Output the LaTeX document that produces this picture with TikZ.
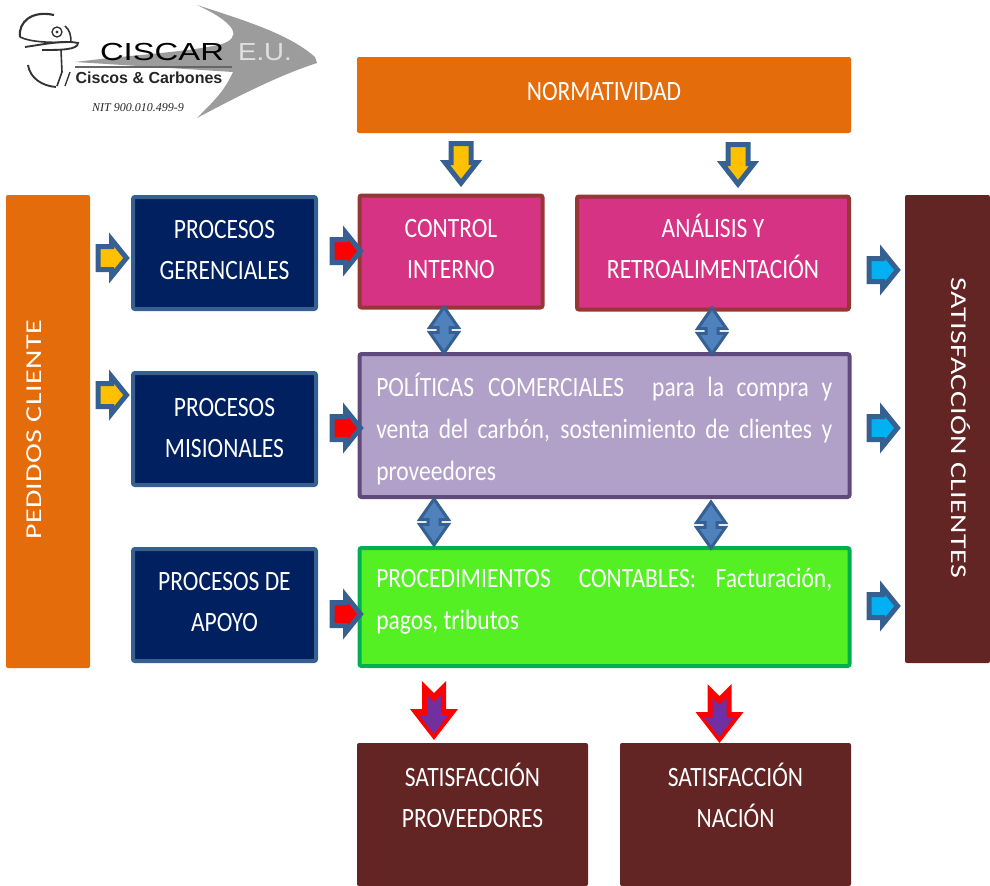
\documentclass[tikz,border=0pt]{standalone}
\usepackage{fontspec}
\setmainfont[FakeStretch=0.84]{Carlito}
\newfontfamily\widefont[FakeStretch=1.32,LetterSpace=2]{Carlito}
\newfontfamily\logofont{Liberation Sans}
\newfontfamily\nitfont{Liberation Serif}
\usepackage{tikz}
\usetikzlibrary{shapes.arrows,positioning}
\def\px{0.75pt}
\definecolor{naranja}{HTML}{E46C0A}
\definecolor{azuloscuro}{HTML}{002060}
\definecolor{azulborde}{HTML}{376092}
\definecolor{azulclaro}{HTML}{4F81BD}
\definecolor{rosa}{HTML}{D63384}
\definecolor{rosaborde}{HTML}{953735}
\definecolor{lila}{HTML}{B1A0C7}
\definecolor{lilaborde}{HTML}{604A7B}
\definecolor{verde}{HTML}{55F024}
\definecolor{verdeborde}{HTML}{00B050}
\definecolor{cafe}{HTML}{632523}
\definecolor{oro}{HTML}{FFC000}
\definecolor{cielo}{HTML}{00B0F0}
\definecolor{morado}{HTML}{7030A0}
\definecolor{gris}{HTML}{9C9C9C}
\tikzset{%
	caja/.style     = {rectangle, rounded corners=2*\px, inner sep=0pt, text=white, align=center, text depth=6*\px, font=\fontsize{21}{30.75}\selectfont},
	plana/.style    = {caja, fill=#1},
	proceso/.style  = {caja, fill=azuloscuro, draw=azulborde, line width=4*\px, minimum width=183*\px, minimum height=112*\px},
	area/.style 2 args = {caja, fill=#1, draw=#2, line width=4*\px},
	vertical/.style = {text=white, font=\widefont\fontsize{17}{24}\selectfont},
	parrafo/.style  = {anchor=north west, inner sep=0pt, text=white, text width=456*\px, align=justify, font=\fontsize{21}{31.5}\selectfont},
	flecha/.style   = {single arrow, anchor=tail, inner sep=0pt, inner ysep=9*\px, single arrow head extend=7*\px, single arrow tip angle=102, minimum height=28.5*\px, draw=azulborde, line width=5*\px, miter limit=10, fill=#1},
	flechaabajo/.style = {flecha=oro, shape border rotate=270, inner ysep=0pt, inner xsep=7.5*\px, single arrow head extend=6*\px, single arrow tip angle=76, minimum height=39.5*\px},
	doble/.style    = {double arrow, inner sep=0pt, inner xsep=4.5*\px, double arrow head extend=8.5*\px, double arrow tip angle=70, minimum height=46*\px, shape border rotate=90, draw=azulborde, line width=3*\px, miter limit=10, fill=azulclaro},
	pics/salida/.style = {code={
		\fill[red] (-12,0) -- (0,12) -- (12,0) -- (12,28) -- (24,28) -- (0,59) -- (-24,28) -- (-12,28) -- cycle;
		\fill[morado] (-7,14) -- (0,21) -- (7,14) -- (7,34) -- (14,34) -- (0,53) -- (-15,34) -- (-7,34) -- cycle;
	}},
}
\begin{document}
\begin{tikzpicture}[x=0.75pt,y=-0.75pt]
	\useasboundingbox (0,0) rectangle (990,886);
	% logo
	\fill[gris] (197,5) .. controls (250,22) and (290,35) .. (315,57) -- (317,63) .. controls (280,75) and (240,95) .. (197,118) .. controls (215,100) and (225,90) .. (233,72) -- (75,62) .. controls (130,55) and (190,52) .. (222,44) .. controls (240,38) and (240,25) .. (197,5) -- cycle;
	\draw[line width=1.6pt,black!80] (20,37) .. controls (18,22) and (32,10) .. (54,15);
	\draw[line width=1.2pt,black!80] (65,26) .. controls (70,30) and (71,36) .. (71,42);
	\draw[line width=1.2pt,black!80] (20,37) .. controls (30,42) and (50,43) .. (71,42);
	\draw[line width=1.4pt,black!80] (25,47) .. controls (45,44) and (65,40) .. (78,43) .. controls (78,50) and (60,50) .. (42,50);
	\draw[line width=1pt,black!80] (57,32) circle (5);
	\fill[black!80] (57,32) circle (1.6);
	\draw[line width=1.2pt,black!80] (61,50) -- (62,72) -- (57,86);
	\draw[line width=1.4pt,black!80] (28,65) .. controls (30,78) and (42,86) .. (56,87);
	\draw[line width=1pt,black!80] (70,72) -- (65,86);
	\draw[line width=2pt,black!60] (75,67) -- (232,67);
	\node[text=black] (ciscar) at (162,52) {\logofont\fontsize{18.5}{20}\selectfont\scalebox{1.33}[1]{CISCAR}};
	\node[text=black!12] (eu) at (265,52) {\logofont\fontsize{18.5}{20}\selectfont\scalebox{1.12}[1]{E.U.}};
	\node[text=black!85] (ciscos) at (149,78) {\logofont\bfseries\fontsize{12}{13}\selectfont Ciscos \& Carbones};
	\node[text=black!85] (nit) at (138,108) {\nitfont\itshape\fontsize{9}{10}\selectfont NIT 900.010.499-9};
	% cajas laterales y superior
	\node[plana=naranja, text depth=8*\px, minimum width=494*\px, minimum height=76*\px] (normatividad) at (604,95) {NORMATIVIDAD};
	\node[plana=naranja, minimum width=84*\px, minimum height=473*\px] (pedidos) at (48,431.5) {};
	\node[vertical, rotate=90] (pedidostxt) at (34,430) {PEDIDOS CLIENTE};
	\node[plana=cafe, minimum width=85*\px, minimum height=468*\px] (clientes) at (947.5,429) {};
	\node[vertical, rotate=-90] (clientestxt) at (961,428) {SATISFACCIÓN CLIENTES};
	% procesos
	\node[proceso] (gerenciales) at (224.5,253) {PROCESOS\\GERENCIALES};
	\node[proceso, text depth=2*\px] (misionales) at (224.5,429) {PROCESOS\\MISIONALES};
	\node[proceso] (apoyo) at (224.5,605) {PROCESOS DE\\APOYO};
	% areas centrales
	\node[area={rosa}{rosaborde}, minimum width=183*\px, minimum height=112*\px] (control) at (451,251.5) {CONTROL\\INTERNO};
	\node[area={rosa}{rosaborde}, text depth=14*\px, minimum width=272*\px, minimum height=113*\px] (analisis) at (713,253) {ANÁLISIS Y\\RETROALIMENTACIÓN};
	\node[area={lila}{lilaborde}, minimum width=490*\px, minimum height=143*\px] (politicas) at (604.5,425.5) {};
	\node[parrafo] (politicastxt) at (376,373) {POLÍTICAS\enspace COMERCIALES\quad para la compra y\linebreak venta del carbón, sostenimiento de clientes y proveedores};
	\node[area={verde}{verdeborde}, minimum width=490*\px, minimum height=118*\px] (contables) at (604.5,607) {};
	\node[parrafo] (contablestxt) at (376,568) {PROCEDIMIENTOS\quad CONTABLES: Facturación,\linebreak pagos, tributos};
	% salidas
	\node[plana=cafe, text depth=38*\px, minimum width=231*\px, minimum height=143*\px] (proveedores) at (472.5,814.5) {SATISFACCIÓN\\PROVEEDORES};
	\node[plana=cafe, text depth=38*\px, minimum width=231*\px, minimum height=143*\px] (nacion) at (735.5,814.5) {SATISFACCIÓN\\NACIÓN};
	% flechas
	\node[flechaabajo] (flechanorma1) at (461,141) {};
	\node[flechaabajo] (flechanorma2) at (738,142) {};
	\node[flecha=oro] (flechaped1) at (95.5,258) {};
	\node[flecha=oro] (flechaped2) at (95.5,395) {};
	\node[flecha=red] (flechager) at (329.5,251) {};
	\node[flecha=red] (flechamis) at (329.5,428) {};
	\node[flecha=red] (flechaapo) at (329.5,614) {};
	\node[flecha=cielo] (flechacli1) at (866.5,270) {};
	\node[flecha=cielo] (flechacli2) at (866.5,428) {};
	\node[flecha=cielo] (flechacli3) at (866.5,606) {};
	\node[doble] (doble1) at (444,330) {};
	\node[doble] (doble2) at (712,331) {};
	\node[doble] (doble3) at (434,522) {};
	\node[doble] (doble4) at (711,525) {};
	\pic (salida1) at (434,681) {salida};
	\pic (salida2) at (719.5,684) {salida};
\end{tikzpicture}
\end{document}
